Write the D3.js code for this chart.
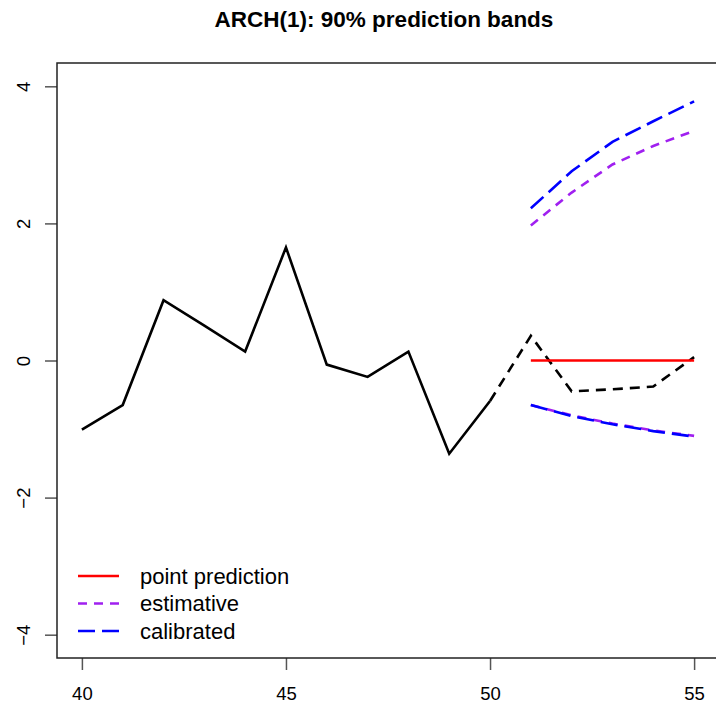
<!DOCTYPE html>
<html>
<head>
<meta charset="utf-8">
<script src="https://cdn.jsdelivr.net/npm/d3@7"></script>
<style>
  body { margin: 0; background: #fff; }
  svg { display: block; font-family: "Liberation Sans", Arial, sans-serif; }
</style>
</head>
<body>
<svg id="chart"></svg>
<script>
// observed series (solid up to 50)
const obsX = [40, 41, 42, 43, 44, 45, 46, 47, 48, 49, 50];
const obsY = [-1.01, -0.65, 0.88, 0.51, 0.13, 1.65, -0.06, -0.24, 0.13, -1.36, -0.59];

// realised future values (dashed)
const futX = [50, 51, 52, 53, 54, 55];
const futY = [-0.59, 0.36, -0.45, -0.42, -0.38, 0.05];

// prediction horizon
const predX = [51, 52, 53, 54, 55];
const pointPred = [0, 0, 0, 0, 0];
const estUpper = [1.97, 2.45, 2.86, 3.13, 3.35];
const estLower = [-0.65, -0.80, -0.92, -1.02, -1.10];
const calUpper = [2.22, 2.76, 3.19, 3.49, 3.78];
const calLower = [-0.65, -0.81, -0.93, -1.03, -1.11];

const xTicks = [40, 45, 50, 55];
const yTicks = [-4, -2, 0, 2, 4];

const legendItems = ["point prediction", "estimative", "calibrated"];
const legendColors = ["#ff0000", "#a020f0", "#0000ff"];
const legendDash = [null, "9,7", "17,7"];

const width = 716, height = 708;
const margin = { top: 63, right: -3, bottom: 50, left: 57 };

const svg = d3.select("#chart")
    .attr("width", width)
    .attr("height", height);

const x = d3.scaleLinear()
    .domain([39.39, 55.61])
    .range([margin.left, width - margin.right]);

const y = d3.scaleLinear()
    .domain([-4.34, 4.34])
    .range([height - margin.bottom, margin.top]);

const line = d3.line()
    .x(d => x(d[0]))
    .y(d => y(d[1]));

const zip = (xs, ys) => xs.map((v, i) => [v, ys[i]]);

// Title
svg.append("text")
    .attr("x", 384)
    .attr("y", 27)
    .attr("text-anchor", "middle")
    .attr("font-weight", "bold")
    .attr("font-size", 22.5)
    .text("ARCH(1): 90% prediction bands");

// X axis
const xAxis = svg.append("g")
    .attr("transform", `translate(0,${height - margin.bottom})`)
    .call(d3.axisBottom(x).tickValues(xTicks).tickSize(12).tickPadding(17));
xAxis.select(".domain").remove();
xAxis.selectAll("line").attr("stroke", "#555").attr("stroke-width", 1.5);
xAxis.selectAll("text").attr("font-size", 18.5).attr("fill", "#000")
    .attr("font-family", "Liberation Sans, Arial, sans-serif");

// Y axis
const yAxis = svg.append("g")
    .attr("transform", `translate(${margin.left},0)`)
    .call(d3.axisLeft(y).tickValues(yTicks).tickSize(12));
yAxis.select(".domain").remove();
yAxis.selectAll("line").attr("stroke", "#555").attr("stroke-width", 1.5);
yAxis.selectAll("text")
    .attr("font-size", 18.5).attr("fill", "#000")
    .attr("font-family", "Liberation Sans, Arial, sans-serif")
    .attr("text-anchor", "middle")
    .attr("dy", null)
    .attr("x", null)
    .attr("transform", "translate(-34,0) rotate(-90)")
    .attr("dominant-baseline", "central");

// Box
svg.append("rect")
    .attr("x", margin.left)
    .attr("y", margin.top)
    .attr("width", width - margin.right - margin.left)
    .attr("height", height - margin.bottom - margin.top)
    .attr("fill", "none")
    .attr("stroke", "#222")
    .attr("stroke-width", 1.5);

// Observed series
svg.append("path")
    .datum(zip(obsX, obsY))
    .attr("d", line)
    .attr("fill", "none")
    .attr("stroke", "#000")
    .attr("stroke-width", 2.6);

svg.append("path")
    .datum(zip(futX, futY))
    .attr("d", line)
    .attr("fill", "none")
    .attr("stroke", "#000")
    .attr("stroke-width", 2.6)
    .attr("stroke-dasharray", "10,7");

// Point prediction
svg.append("path")
    .datum(zip(predX, pointPred))
    .attr("d", line)
    .attr("fill", "none")
    .attr("stroke", legendColors[0])
    .attr("stroke-width", 2.6);

// Estimative bands
[estUpper, estLower].forEach(band => {
    svg.append("path")
        .datum(zip(predX, band))
        .attr("d", line)
        .attr("fill", "none")
        .attr("stroke", legendColors[1])
        .attr("stroke-width", 2.6)
        .attr("stroke-dasharray", legendDash[1]);
});

// Calibrated bands
[calUpper, calLower].forEach(band => {
    svg.append("path")
        .datum(zip(predX, band))
        .attr("d", line)
        .attr("fill", "none")
        .attr("stroke", legendColors[2])
        .attr("stroke-width", 2.6)
        .attr("stroke-dasharray", legendDash[2]);
});

// Legend
const legend = svg.append("g");
legendItems.forEach((name, i) => {
    const ly = 576 + i * 27.5;
    legend.append("line")
        .attr("x1", 78).attr("x2", 119)
        .attr("y1", ly).attr("y2", ly)
        .attr("stroke", legendColors[i])
        .attr("stroke-width", 2.6)
        .attr("stroke-dasharray", legendDash[i]);
    legend.append("text")
        .attr("x", 140)
        .attr("y", ly)
        .attr("dominant-baseline", "central")
        .attr("font-size", 22)
        .text(name);
});
</script>
</body>
</html>
